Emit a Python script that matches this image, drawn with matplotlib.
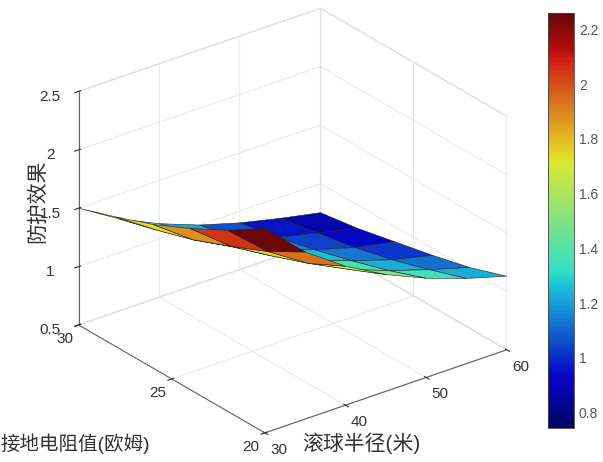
import matplotlib
matplotlib.use("Agg")
import matplotlib.pyplot as plt
import numpy as np
from matplotlib import cm, colors

plt.rcParams['font.family'] = ['Liberation Sans', 'Noto Sans CJK SC', 'DejaVu Sans']

# 滚球半径(米) / 接地电阻值(欧姆)
radius = [30, 35, 40, 45, 50, 55, 60]
resistance = [20, 22, 24, 26, 28, 30]
# 防护效果, one row per resistance value
effect = [
    [2.25, 1.93, 1.69, 1.50, 1.35, 1.23, 1.13],
    [2.05, 1.75, 1.53, 1.36, 1.23, 1.12, 1.02],
    [1.88, 1.61, 1.41, 1.25, 1.13, 1.02, 0.94],
    [1.73, 1.48, 1.30, 1.15, 1.04, 0.94, 0.87],
    [1.61, 1.38, 1.21, 1.07, 0.96, 0.88, 0.80],
    [1.50, 1.29, 1.13, 1.00, 0.90, 0.82, 0.75],
]
x_ticks = [30, 40, 50, 60]
y_ticks = [20, 25, 30]
z_ticks = [0.5, 1, 1.5, 2, 2.5]
cbar_ticks = [0.8, 1, 1.2, 1.4, 1.6, 1.8, 2, 2.2]

X, Y = np.meshgrid(radius, resistance)
Z = np.array(effect)

# jet, toned down a little like the printed figure
base = cm.jet(np.linspace(0, 1, 256))[:, :3]
lum = (base @ np.array([0.299, 0.587, 0.114]))[:, None]
soft = (lum + 0.8 * (base - lum)) * 0.93
cmap = colors.ListedColormap(np.clip(soft, 0, 1))

norm = colors.Normalize(vmin=0.745, vmax=2.26)
face_cols = cmap(norm(Z))

fig = plt.figure(figsize=(6.03, 4.62), dpi=100)
ax = fig.add_axes([0.025, 0.009, 0.9, 1.0], projection='3d')
ax.set_proj_type('ortho')
ax.plot_surface(X, Y, Z, facecolors=face_cols, edgecolor='#202020', linewidth=0.4,
                shade=False, rstride=1, cstride=1, antialiased=True)

ax.view_init(elev=26.5, azim=-127.6)
ax.set_box_aspect((1, 1, 0.855), zoom=1.06)
ax.set_xlim(30, 60)
ax.set_ylim(20, 30)
ax.set_zlim(0.5, 2.5)
ax.set_xticks(x_ticks)
ax.set_yticks(y_ticks)
ax.set_zticks(z_ticks)
ax.set_zticklabels(['0.5', '1', '1.5', '2', '2.5'])

for axis in (ax.xaxis, ax.yaxis, ax.zaxis):
    axis.set_pane_color((1, 1, 1, 1))
    axis.pane.set_edgecolor('#dcdcdc')
    axis._axinfo['grid']['color'] = '#e3e3e3'
    axis._axinfo['grid']['linewidth'] = 0.6
    axis.line.set_color('#666666')
    axis.line.set_linewidth(0.8)
ax.tick_params(colors='#333333', labelsize=11)
ax.tick_params(axis='x', pad=-3)
ax.tick_params(axis='y', pad=-4)
plt.setp(ax.get_xticklabels(), ha='left')
plt.setp(ax.get_yticklabels(), ha='right')

ax.set_xlabel('')
ax.set_ylabel('')
ax.set_zlabel('')
fig.text(0.60, 0.025, '滚球半径(米)', fontsize=15, color='#333333', ha='center')
fig.text(0.125, 0.025, '接地电阻值(欧姆)', fontsize=14, color='#333333', ha='center')
fig.text(0.062, 0.565, '防护效果', fontsize=15, color='#333333', rotation=90,
         ha='center', va='center')

cax = fig.add_axes([0.909, 0.074, 0.043, 0.898])
sm = cm.ScalarMappable(norm=norm, cmap=cmap)
cb = fig.colorbar(sm, cax=cax, ticks=cbar_ticks)
cb.ax.set_yticklabels(['0.8', '1', '1.2', '1.4', '1.6', '1.8', '2', '2.2'])
cb.ax.tick_params(labelsize=10, colors='#555555', length=0)
cb.outline.set_linewidth(0.6)
cb.outline.set_edgecolor('#444444')

fig.savefig('out.png', dpi=100)
